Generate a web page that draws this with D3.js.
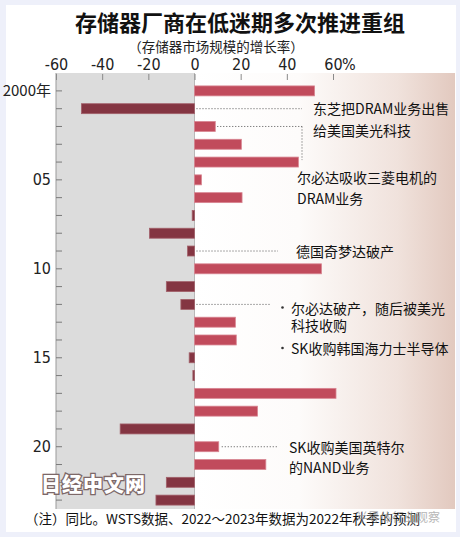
<!DOCTYPE html>
<html><head><meta charset="utf-8">
<script src="https://cdn.jsdelivr.net/npm/d3@7"></script>
<style>
html,body{margin:0;padding:0;background:#eef0fa;}
svg{display:block;}
</style></head>
<body>
<svg id="chart" width="460" height="537"></svg>
<script>
// ---- data ----
const years = d3.range(2000, 2024);
const growth = [52, -49, 9, 20.3, 45, 3, 20.6, -1, -19.5, -3, 55, -12.2, -5.9, 17.7, 18.1, -2.3, -0.7, 61.3, 27.3, -32.2, 10.5, 30.9, -12.2, -16.7];
const xTicks = [-60, -40, -20, 0, 20, 40, 60];
const yTickLabels = {2000: "2000年", 2005: "05", 2010: "10", 2015: "15", 2020: "20"};
const titleText = "存储器厂商在低迷期多次推进重组";
const subtitleText = "（存储器市场规模的增长率）";
const noteText = "（注）同比。WSTS数据、2022～2023年数据为2022年秋季的预测";
const annToshiba = ["东芝把DRAM业务出售", "给美国美光科技"];
const annElpidaMitsu = ["尔必达吸收三菱电机的", "DRAM业务"];
const annQimonda = ["德国奇梦达破产"];
const annElpidaBankrupt = ["尔必达破产，随后被美光", "科技收购"];
const annSKHynix = ["SK收购韩国海力士半导体"];
const annSKIntel = ["SK收购美国英特尔", "的NAND业务"];
const watermark1 = "日经中文网";
const watermark2 = "半导体行业观察";

// ---- layout ----
const svg = d3.select("#chart");
const cjk = "'Noto Sans CJK SC','Noto Sans',sans-serif";
const narrow = "'Liberation Sans Narrow','DejaVu Sans Condensed','Liberation Sans',sans-serif";

const x = d3.scaleLinear().domain([-60, 60]).range([56, 333]);
const y = d3.scaleBand().domain(years).range([82, 509]).paddingInner(0.44).paddingOuter(0.22);
const plotTop = 73, plotBottom = 509, plotRight = 455;

// card
svg.append("rect").attr("x", 6).attr("y", 5).attr("width", 450).attr("height", 527).attr("fill", "#fff");

const defs = svg.append("defs");
const grad = defs.append("linearGradient").attr("id", "bg").attr("x1", "0").attr("x2", "1").attr("y1", "0").attr("y2", "0");
grad.append("stop").attr("offset", "0").attr("stop-color", "#ffffff");
grad.append("stop").attr("offset", "0.4").attr("stop-color", "#fdfbfa");
grad.append("stop").attr("offset", "0.78").attr("stop-color", "#f0e2dc");
grad.append("stop").attr("offset", "1").attr("stop-color", "#e2c9bf");

// backgrounds
svg.append("rect").attr("x", x(0)).attr("y", plotTop).attr("width", plotRight - x(0)).attr("height", plotBottom - plotTop).attr("fill", "url(#bg)");
svg.append("rect").attr("x", x(-60)).attr("y", plotTop).attr("width", x(0) - x(-60)).attr("height", plotBottom - plotTop).attr("fill", "#dcdcdc");
svg.append("line").attr("x1", x(-60)).attr("x2", x(-60)).attr("y1", plotTop).attr("y2", plotBottom).attr("stroke", "#9a9a9a").attr("stroke-width", 1);
svg.append("line").attr("x1", x(0)).attr("x2", x(0)).attr("y1", plotTop).attr("y2", plotBottom).attr("stroke", "#b8b8b8").attr("stroke-width", 1);

// title
svg.append("text").attr("x", 240).attr("y", 21).attr("text-anchor", "middle").attr("dominant-baseline", "central")
  .attr("font-family", cjk).attr("font-weight", 700).attr("font-size", 22).attr("fill", "#111").text(titleText);
svg.append("text").attr("x", 216).attr("y", 45.5).attr("text-anchor", "middle").attr("dominant-baseline", "central")
  .attr("font-family", cjk).attr("font-size", 13.5).attr("fill", "#222").text(subtitleText);

// top axis
const topAxis = d3.axisTop(x).tickValues(xTicks).tickSizeInner(-6).tickSizeOuter(0).tickPadding(4).tickFormat(d => d);
const gTop = svg.append("g").attr("transform", `translate(0,${plotTop + 1})`).call(topAxis);
gTop.select(".domain").remove();
gTop.selectAll(".tick line").attr("stroke", "#8a8a8a");
gTop.selectAll(".tick text").attr("font-family", narrow).attr("font-size", 16).attr("fill", "#222");
svg.append("text").attr("x", x(60) + 9).attr("y", plotTop + 1 - 4)
  .attr("font-family", narrow).attr("font-size", 16).attr("fill", "#222").text("%");

// left axis
const leftAxis = d3.axisLeft(y).tickSizeInner(-6).tickSizeOuter(0).tickPadding(5).tickFormat(d => yTickLabels[d] || "");
const gLeft = svg.append("g").attr("transform", `translate(${x(-60)},0)`).call(leftAxis);
gLeft.select(".domain").remove();
gLeft.selectAll(".tick line").attr("stroke", "#7a7a7a");
gLeft.selectAll(".tick text").attr("font-family", narrow).attr("font-size", 16).attr("fill", "#222");
gLeft.selectAll(".tick text").filter(d => d === 2000).attr("font-family", "'Liberation Sans Narrow','Noto Sans CJK SC',sans-serif").attr("font-size", 15);

// bars
svg.append("g").selectAll("rect").data(years).join("rect")
  .attr("x", (d, i) => x(Math.min(0, growth[i])))
  .attr("y", d => y(d))
  .attr("width", (d, i) => Math.abs(x(growth[i]) - x(0)))
  .attr("height", y.bandwidth())
  .attr("fill", (d, i) => growth[i] >= 0 ? "#c14b5c" : "#843542")
  .attr("stroke", (d, i) => growth[i] >= 0 ? "#d88591" : "#a2606a")
  .attr("stroke-width", 0.8);

const yc = yr => y(yr) + y.bandwidth() / 2;
const gv = yr => growth[years.indexOf(yr)];

// leader lines
const dotted = (x1, y1, x2, y2) => svg.append("line").attr("x1", x1).attr("y1", y1).attr("x2", x2).attr("y2", y2)
  .attr("stroke", "#555").attr("stroke-width", 1).attr("stroke-dasharray", "1,2");
dotted(x(Math.max(0, gv(2001))) + 2, yc(2001), 302, yc(2001));
dotted(x(Math.max(0, gv(2002))) + 2, yc(2002), 302, yc(2002));
dotted(302, yc(2002), 302, yc(2004) - 2);
dotted(x(Math.max(0, gv(2009))) + 2, yc(2009), 278, yc(2009));
dotted(x(Math.max(0, gv(2012))) + 2, yc(2012), 270, yc(2012));
dotted(x(Math.max(0, gv(2020))) + 3, yc(2020), 278, yc(2020));

// annotations
const ann = (lines, x0, y0, lh) => {
  lines.forEach((t, i) => svg.append("text").attr("x", x0).attr("y", y0 + i * lh).attr("dominant-baseline", "central")
    .attr("font-family", cjk).attr("font-size", 14).attr("fill", "#111").text(t));
};
ann(annToshiba, 313, yc(2001) - 1, 22);
ann(annElpidaMitsu, 297, 177, 21);
ann(annQimonda, 296, yc(2009), 20);
ann(annElpidaBankrupt, 291, 307.5, 17);
ann(annSKHynix, 291, 348, 16);
ann(annSKIntel, 289, yc(2020), 20);
[307.5, 348].forEach(yy => svg.append("circle").attr("cx", 282.5).attr("cy", yy).attr("r", 1.3).attr("fill", "#333"));

// watermark
svg.append("text").attr("x", 41).attr("y", 483).attr("dominant-baseline", "central")
  .attr("font-family", cjk).attr("font-weight", 900).attr("font-size", 20).attr("letter-spacing", 1)
  .attr("fill", "#ffffff").attr("stroke", "#7d6868").attr("stroke-width", 2.6).attr("paint-order", "stroke").text(watermark1);

// note
svg.append("text").attr("x", 25).attr("y", 518).attr("dominant-baseline", "central")
  .attr("font-family", cjk).attr("font-size", 13.5).attr("fill", "#111").text(noteText);
svg.append("text").attr("x", 356).attr("y", 516).attr("dominant-baseline", "central")
  .attr("font-family", cjk).attr("font-size", 12).attr("fill", "#999").attr("opacity", 0.7).text(watermark2);
</script>
</body></html>
